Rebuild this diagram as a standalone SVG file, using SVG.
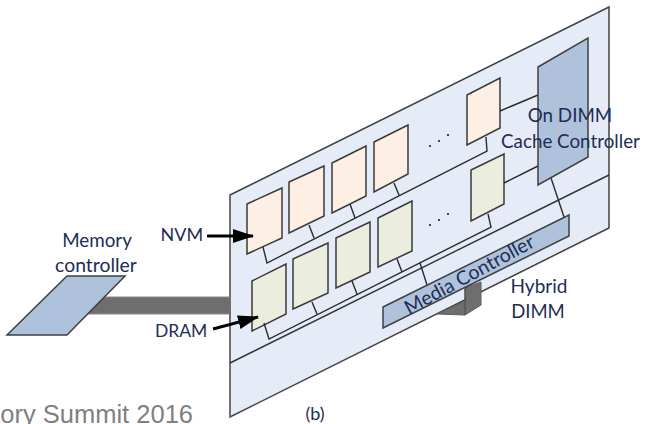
<svg xmlns="http://www.w3.org/2000/svg" width="645" height="424" viewBox="0 0 645 424">
<style>
.t{font-family:"Lato","Carlito","Liberation Sans",sans-serif;font-size:18.8px;fill:#1e2d55}
.m{text-anchor:middle}
.n{fill:#fdefe4;stroke:#3a3a3a;stroke-width:1.5}
.d{fill:#ebeedf;stroke:#3a3a3a;stroke-width:1.5}
.c{fill:#afc2db;stroke:#404040;stroke-width:1.5}
.g{fill:#6e6e6e;stroke:#8a8a8a;stroke-width:1}
.l{fill:none;stroke:#2a2a2a;stroke-width:1.4}
.a{fill:none;stroke:#000;stroke-width:3;marker-end:url(#h)}
</style>
<defs><marker id="h" markerUnits="userSpaceOnUse" markerWidth="21" markerHeight="16" refX="20" refY="7" orient="auto"><path d="M0 0L21 7L0 14Z" fill="#000"/></marker></defs>
<rect width="645" height="424" fill="#fff"/>
<text x="193" y="423" text-anchor="end" style="font-family:'Liberation Sans',sans-serif;font-size:25.500px;fill:#808080">ory Summit 2016</text>
<g id="memory-bus"><rect class="g" x="88" y="297" width="143" height="17"/></g>
<g id="memory-controller"><polygon class="c" points="67,276 125,276 67,335 7,335"/><text class="t m" x="97" y="247">Memory</text><text class="t m" x="96" y="272" style="font-size:19.400px">controller</text></g>
<g id="board"><polygon points="230,195 609,7 609,228 230,417" fill="#e6ecf7" stroke="#404040" stroke-width="1.5"/><line x1="230" y1="195" x2="230" y2="417" stroke="#707070" stroke-width="2"/><line x1="230" y1="363" x2="609" y2="175" stroke="#333" stroke-width="1.4"/></g>
<g id="nvm-1"><polygon class="n" points="247,204 282,188 282,238 247,254"/></g>
<g id="nvm-2"><polygon class="n" points="289,182 324,166 324,216 289,233"/></g>
<g id="nvm-3"><polygon class="n" points="332,163 366,146 366,196 332,213"/></g>
<g id="nvm-4"><polygon class="n" points="374,142 408,125 408,174 374,192"/></g>
<g id="nvm-5"><polygon class="n" points="467,95 500,78 500,128 467,145"/></g>
<g id="dram-1"><polygon class="d" points="252,281 286,264 286,314 252,331"/></g>
<g id="dram-2"><polygon class="d" points="293,259 328,243 328,293 293,309"/></g>
<g id="dram-3"><polygon class="d" points="336,238 370,222 370,272 336,288"/></g>
<g id="dram-4"><polygon class="d" points="378,218 412,201 412,251 378,267"/></g>
<g id="dram-5"><polygon class="d" points="471,170 504,154 504,204 471,221"/></g>
<g id="dots" fill="#111"><circle cx="430" cy="146" r="1"/><circle cx="439" cy="141" r="1"/><circle cx="448" cy="135" r="1"/><circle cx="430" cy="225" r="1"/><circle cx="439" cy="220" r="1"/><circle cx="448" cy="214" r="1"/></g>
<g id="dimm-stem"><polygon points="437,314 465,301 465,288 481,282 481,305 465,315" fill="#6e6e6e" stroke="#5c5c5c"/><line x1="465" y1="288" x2="465" y2="315" stroke="#4a4a4a"/></g>
<g id="connectors">
<path class="l" d="M486 137L487 151L267 263L263 247M309 225L314 238M350 204L355 218M394 183L399 195"/>
<path class="l" d="M488 214L491 227L269 339L264 323M312 302L317 314M352 281L357 294M397 259L402 272"/>
<path class="l" d="M420 263L427 285M551 178L564 217M500 111L538 95M504 183L538 166"/>
<path class="a" d="M207 236H253"/>
<path class="a" d="M213 329L258 317"/>
</g>
<g id="cache-controller"><polygon class="c" points="538,67 588,38 588,157 538,185"/><text class="t m" x="570" y="122">On DIMM</text><text class="t m" x="570.500" y="148">Cache Controller</text></g>
<g id="media-controller"><polygon class="c" points="383,307 569,215 569,236 383,328"/><text class="t" transform="translate(409,315) rotate(-28.500)" style="font-size:19.500px">Media Controller</text></g>
<g id="labels"><text class="t" x="160.500" y="241" style="font-size:18px">NVM</text><text class="t" x="155" y="337" style="font-size:17.500px">DRAM</text><text class="t m" x="539" y="293" style="font-size:19px">Hybrid</text><text class="t m" x="538" y="318" style="font-size:18.500px">DIMM</text><text class="t m" x="315" y="420" style="font-size:18px">(b)</text></g>
</svg>
